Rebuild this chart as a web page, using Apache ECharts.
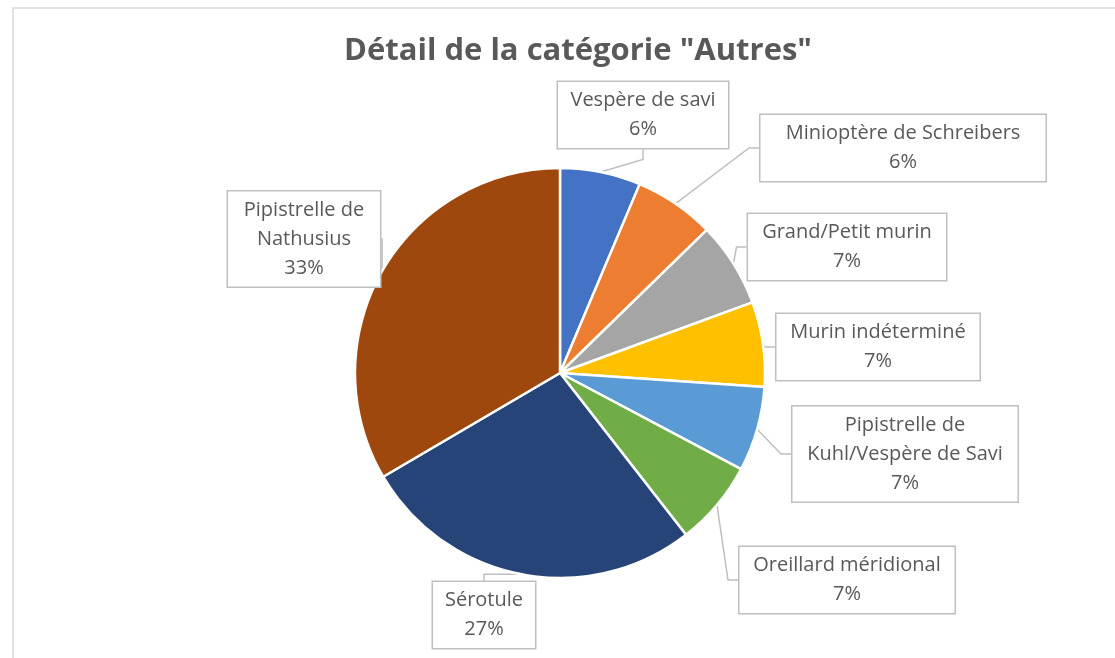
<!DOCTYPE html>
<html>
<head>
<meta charset="utf-8">
<script src="https://cdn.jsdelivr.net/npm/echarts@6/dist/echarts.min.js"></script>
<style>
  html, body { margin: 0; padding: 0; background: #fff; }
  #chart { width: 1115px; height: 658px; }
</style>
</head>
<body>
<div id="chart"></div>
<script>
// données
const categories = [
  'Vespère de savi',
  'Minioptère de Schreibers',
  'Grand/Petit murin',
  'Murin indéterminé',
  'Pipistrelle de\nKuhl/Vespère de Savi',
  'Oreillard méridional',
  'Sérotule',
  'Pipistrelle de\nNathusius'
]
const values = [19, 19, 20, 20, 20, 20, 81, 100]
const colors = ['#4472C4', '#ED7D31', '#A5A5A5', '#FFC000', '#5B9BD5', '#70AD47', '#264478', '#9E480E']

// emplacement des étiquettes (centre de la boîte) et largeur de boîte
const labelPos = [
  [643, 115, 170],
  [903, 148, 285],
  [847, 247, 198],
  [878, 347, 203],
  [905, 454, 225],
  [847, 580, 215],
  [484, 615, 102],
  [304, 239, 152]
]

const chart = echarts.init(document.getElementById('chart'))

chart.setOption({
  animation: false,
  color: colors,
  title: {
    text: 'Détail de la catégorie "Autres"',
    left: 573,
    top: 31,
    textAlign: 'center',
    textStyle: {
      fontFamily: 'Open Sans',
      fontSize: 31,
      fontWeight: 'bold',
      color: '#595959'
    }
  },
  // cadre du graphique
  graphic: [
    {
      type: 'rect',
      shape: { x: 13, y: 8, width: 1200, height: 700 },
      style: { fill: 'none', stroke: '#d9d9d9', lineWidth: 1.5 },
      silent: true
    }
  ],
  series: [
    {
      type: 'pie',
      center: [560, 373],
      radius: 205,
      startAngle: 90,
      clockwise: true,
      avoidLabelOverlap: false,
      itemStyle: {
        borderColor: '#fff',
        borderWidth: 2.5
      },
      label: {
        show: true,
        formatter: function (p) {
          return p.name + '\n' + Math.round(p.percent) + '%'
        },
        fontFamily: 'Open Sans',
        fontSize: 20,
        lineHeight: 29,
        color: '#595959',
        align: 'center',
        backgroundColor: '#fff',
        borderColor: '#bfbfbf',
        borderWidth: 1.5,
        padding: [4, 0]
      },
      labelLine: {
        show: true,
        length: 10,
        length2: 10,
        lineStyle: { color: '#bfbfbf', width: 1.5 }
      },
      labelLayout: function (params) {
        const pos = labelPos[params.dataIndex]
        return {
          x: pos[0],
          y: pos[1],
          align: 'center',
          verticalAlign: 'middle'
        }
      },
      data: categories.map(function (name, i) {
        return {
          name: name,
          value: values[i],
          label: { width: labelPos[i][2] }
        }
      })
    }
  ]
})
</script>
</body>
</html>
